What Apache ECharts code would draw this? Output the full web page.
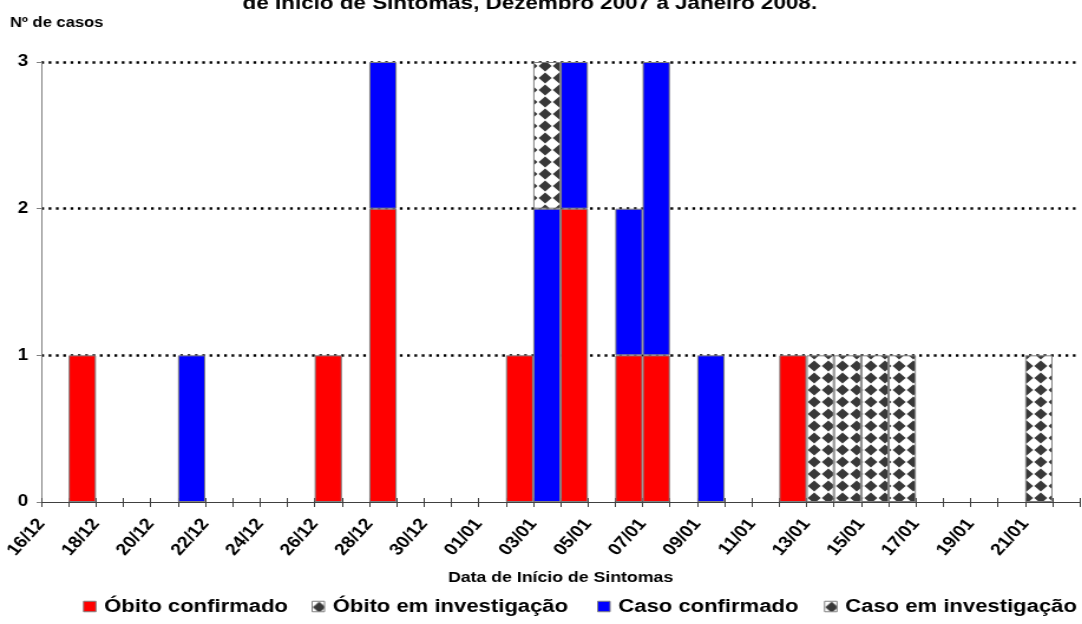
<!DOCTYPE html>
<html>
<head>
<meta charset="utf-8">
<script src="https://cdn.jsdelivr.net/npm/echarts@6/dist/echarts.min.js"></script>
<style>
  html, body { margin: 0; padding: 0; background: #fff; overflow: hidden; }
  #wrap { width: 1082px; height: 624px; overflow: hidden; }
  /* the chart is laid out narrower and widened horizontally */
  #chart { width: 917px; height: 624px; transform: scaleX(1.18); transform-origin: 0 0; }
</style>
</head>
<body>
<div id="wrap"><div id="chart"></div></div>
<script>
// Days of symptom onset (one bar slot per day)
const days = [
  '16/12','17/12','18/12','19/12','20/12','21/12','22/12','23/12','24/12','25/12',
  '26/12','27/12','28/12','29/12','30/12','31/12','01/01','02/01','03/01','04/01',
  '05/01','06/01','07/01','08/01','09/01','10/01','11/01','12/01','13/01','14/01',
  '15/01','16/01','17/01','18/01','19/01','20/01','21/01','22/01'
];
// Labels written every second day
const tickLabels = [
  '16/12','18/12','20/12','22/12','24/12','26/12','28/12','30/12','01/01','03/01',
  '05/01','07/01','09/01','11/01','13/01','15/01','17/01','19/01','21/01'
];
const tickStep = 2;

// Cases per day
const obitoConfirmado   = [0,1,0,0,0,0,0,0,0,0, 1,0,2,0,0,0,0,1,0,2, 0,1,1,0,0,0,0,1,0,0, 0,0,0,0,0,0,0,0];
const obitoInvestigacao = [0,0,0,0,0,0,0,0,0,0, 0,0,0,0,0,0,0,0,0,0, 0,0,0,0,0,0,0,0,0,0, 0,0,0,0,0,0,0,0];
const casoConfirmado    = [0,0,0,0,0,1,0,0,0,0, 0,0,1,0,0,0,0,0,2,1, 0,1,2,0,1,0,0,0,0,0, 0,0,0,0,0,0,0,0];
const casoInvestigacao  = [0,0,0,0,0,0,0,0,0,0, 0,0,0,0,0,0,0,0,1,0, 0,0,0,0,0,0,0,0,1,1, 1,1,0,0,0,0,1,0];

const seriesNames = ['Óbito confirmado', 'Óbito em investigação', 'Caso confirmado', 'Caso em investigação'];

const FONT = '"Liberation Sans", Arial, Helvetica, sans-serif';

// white tile with a dark diamond, repeated as a fill
function diamondTile() {
  const c = document.createElement('canvas');
  c.width = 12; c.height = 12;
  const g = c.getContext('2d');
  g.fillStyle = '#ffffff';
  g.fillRect(0, 0, 12, 12);
  g.fillStyle = '#383838';
  g.beginPath();
  g.moveTo(6, 0.5); g.lineTo(11.5, 6); g.lineTo(6, 11.5); g.lineTo(0.5, 6);
  g.closePath();
  g.fill();
  return c;
}
const diamondFill = { image: diamondTile(), repeat: 'repeat' };

const toBars = arr => arr.map(v => (v > 0 ? v : '-'));

const border = { borderColor: '#808080', borderWidth: 1 };
function barSeries(name, values, color) {
  return {
    type: 'bar', name: name, stack: 'total',
    xAxisIndex: 0, yAxisIndex: 0,
    barCategoryGap: '0%',
    itemStyle: Object.assign({ color: color }, border),
    emphasis: { disabled: true },
    data: toBars(values)
  };
}

const legendLeft = [70.3, 264, 506, 698.3];

const chart = echarts.init(document.getElementById('chart'));
chart.setOption({
  animation: false,
  backgroundColor: '#ffffff',
  grid: { left: 35, right: -5, top: 62, bottom: 122 },
  graphic: [
    {
      type: 'text', x: 449, y: 3.5, silent: true,
      style: { text: 'de Início de Sintomas, Dezembro 2007 a Janeiro 2008.', font: 'bold 19px ' + FONT,
               fill: '#000', align: 'center', verticalAlign: 'middle' }
    },
    {
      type: 'text', x: 8.5, y: 23, silent: true,
      style: { text: 'Nº de casos', font: 'bold 14px ' + FONT, fill: '#000', align: 'left', verticalAlign: 'middle' }
    }
  ],
  legend: seriesNames.map((n, k) => ({
    data: [n], left: legendLeft[k], top: 597, padding: 0,
    icon: 'rect', itemWidth: 10.5, itemHeight: 10.5, selectedMode: false,
    itemStyle: { borderColor: '#808080', borderWidth: 1 },
    textStyle: { fontFamily: FONT, fontWeight: 'bold', fontSize: 18.7, color: '#000', padding: [0, 0, 0, 2] }
  })),
  xAxis: [
    {
      type: 'category', data: days, boundaryGap: true,
      axisLine: { lineStyle: { color: '#404040', width: 1 } },
      axisTick: { show: true, interval: 0, length: 5, lineStyle: { color: '#404040' } },
      axisLabel: { show: false },
      splitLine: { show: false },
      name: 'Data de Início de Sintomas', nameLocation: 'middle', nameGap: 68,
      nameTextStyle: { fontFamily: FONT, fontWeight: 'bold', fontSize: 15, color: '#000' }
    },
    {
      type: 'value', position: 'bottom', min: 0, max: days.length, interval: 1,
      axisLine: { show: false },
      axisTick: { show: true, inside: true, length: 4, lineStyle: { color: '#404040' } },
      splitLine: { show: false },
      axisLabel: {
        rotate: 52, margin: 19, fontFamily: FONT, fontWeight: 'bold', fontSize: 16.5, color: '#000',
        formatter: v => (v % tickStep === 0 && tickLabels[v / tickStep]) ? tickLabels[v / tickStep] : ''
      }
    }
  ],
  yAxis: {
    type: 'value', min: 0, max: 3, interval: 1,
    axisLine: { show: true, lineStyle: { color: '#808080', width: 1 } },
    axisTick: { show: true, length: 4, lineStyle: { color: '#808080' } },
    axisLabel: { margin: 11, fontFamily: FONT, fontWeight: 'bold', fontSize: 16, color: '#000' },
    splitLine: { show: true, showMinLine: false, lineStyle: { color: '#000', width: 2.5, type: [2.3, 3.9] } }
  },
  series: [
    barSeries(seriesNames[0], obitoConfirmado, '#ff0000'),
    barSeries(seriesNames[1], obitoInvestigacao, diamondFill),
    barSeries(seriesNames[2], casoConfirmado, '#0000ff'),
    barSeries(seriesNames[3], casoInvestigacao, diamondFill)
  ]
});
</script>
</body>
</html>
